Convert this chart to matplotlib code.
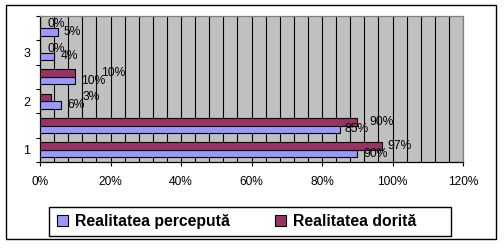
import matplotlib
matplotlib.use("Agg")
import matplotlib.pyplot as plt
from matplotlib.patches import Rectangle
from matplotlib.ticker import FuncFormatter, MultipleLocator
import numpy as np

plt.rcParams['font.family'] = ['Liberation Sans', 'DejaVu Sans']

# Data (rows from bottom to top)
row_labels = ["1", "", "2", "", "3", ""]
perceputa = [90, 85, 6, 10, 4, 5]
dorita = [97, 90, 3, 10, 0, 0]
series_names = ["Realitatea percepută", "Realitatea dorită"]
x_ticks = [0, 20, 40, 60, 80, 100, 120]

# label offsets (style: pixels to the right of the bar end), as in the reference
blue_label_dx = [6, 5, 6, 6, 7, 6]
red_label_dx = [5, 12, 32, 26, 8, 8]

W, H = 504, 248
fig = plt.figure(figsize=(W / 100, H / 100), dpi=100)
fig.patch.set_facecolor("white")
px = 72 / 100  # points per pixel

# chart border
fig.patches.append(Rectangle((6 / W, 1 - 239 / H), (496 - 6) / W, (239 - 5) / H,
                             transform=fig.transFigure, fill=False,
                             edgecolor="black", linewidth=1.0))

ax = fig.add_axes([40 / W, 1 - 162 / H, (463 - 40) / W, (162 - 16) / H])
ax.set_facecolor("#C0C0C0")

n = len(row_labels)
y = np.arange(n)
bh = 0.31
blue = "#9999FF"
red = "#993366"

ax.barh(y - bh / 2, perceputa, height=bh, color=blue, edgecolor="black",
        linewidth=0.8, zorder=3, label=series_names[0])
ax.barh(y + bh / 2, dorita, height=bh, color=red, edgecolor="black",
        linewidth=0.8, zorder=3, label=series_names[1])

for yi, v, dx in zip(y, perceputa, blue_label_dx):
    ax.annotate(f"{v}%", xy=(v, yi - bh / 2), xytext=(dx * px, 0),
                textcoords="offset points", va="center", ha="left",
                fontsize=8.7, zorder=4, annotation_clip=False)
for yi, v, dx in zip(y, dorita, red_label_dx):
    ax.annotate(f"{v}%", xy=(v, yi + bh / 2), xytext=(dx * px, 0),
                textcoords="offset points", va="center", ha="left",
                fontsize=8.7, zorder=4, annotation_clip=False)

ax.set_xlim(0, 120)
ax.set_ylim(-0.5, n - 0.5)

# vertical minor gridlines every 4%
ax.xaxis.set_minor_locator(MultipleLocator(4))
ax.set_xticks(x_ticks)
ax.xaxis.set_major_formatter(FuncFormatter(lambda v, p: f"{int(v)}%"))
ax.grid(True, which="both", axis="x", color="black", linewidth=0.8, zorder=1)
ax.set_axisbelow(True)
ax.tick_params(axis="x", which="minor", length=0)
ax.tick_params(axis="x", which="major", length=3, width=0.8, labelsize=8.6, pad=7)

# y ticks at row boundaries, labels at row centers
ax.set_yticks(np.arange(-0.5, n, 1.0))
ax.set_yticklabels([])
ax.set_yticks(y, minor=True)
ax.set_yticklabels(row_labels, minor=True)
ax.tick_params(axis="y", which="major", length=3, width=0.8)
ax.tick_params(axis="y", which="minor", length=0, labelsize=9, pad=7)

for s in ["left", "bottom"]:
    ax.spines[s].set_color("black")
    ax.spines[s].set_linewidth(0.9)
for s in ["top", "right"]:
    ax.spines[s].set_color("#808080")
    ax.spines[s].set_linewidth(0.9)

# legend box
fig.patches.append(Rectangle((49 / W, 1 - 236 / H), (451 - 49) / W, (236 - 207) / H,
                             transform=fig.transFigure, fill=False,
                             edgecolor="black", linewidth=1.0))
handles, labels = ax.get_legend_handles_labels()
leg = fig.legend(handles, labels, loc="center left", ncol=2,
                 bbox_to_anchor=(57 / W, 1 - 221.5 / H),
                 frameon=False, prop={"weight": "bold", "size": 11.3},
                 handlelength=0.7, handleheight=0.7, handletextpad=0.45,
                 columnspacing=2.85, borderaxespad=0, borderpad=0)
for h in leg.legend_handles:
    h.set_edgecolor("black")
    h.set_linewidth(0.8)

fig.savefig("out.png", dpi=100)
